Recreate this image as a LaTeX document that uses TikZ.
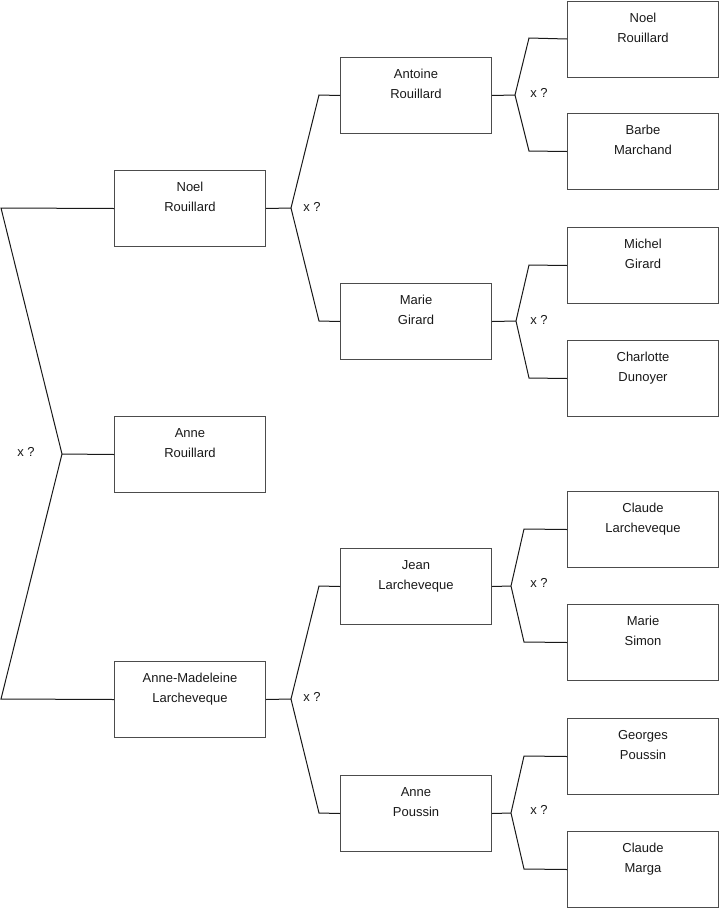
\documentclass[tikz,border=0pt]{standalone}
\usepackage{fontspec}
\setmainfont{Liberation Sans}
\begin{document}
\begin{tikzpicture}[x=1pt,y=-1pt,
 pbox/.style={draw=black!70, line width=1pt, minimum width=151pt, minimum height=76pt, inner sep=0pt, anchor=north west},
 nm/.style={anchor=north, yshift=-12pt, inner sep=0pt, align=center, font=\fontsize{13}{20}\selectfont, text=black!90},
 conn/.style={draw=black!90, line width=1pt},
 xq/.style={font=\fontsize{13}{16}\selectfont, inner sep=0pt, text=black!90}]
\useasboundingbox (0,0) rectangle (719,908);
% level 1
\node[pbox, label={[nm]north:Noel\\Rouillard}] (noel) at (114,170) {};
\node[pbox, label={[nm]north:Anne\\Rouillard}] (anne) at (114,416) {};
\node[pbox, label={[nm]north:Anne-Madeleine\\Larcheveque}] (am) at (114,661) {};
% level 2
\node[pbox, label={[nm]north:Antoine\\Rouillard}] (antoine) at (340,57) {};
\node[pbox, label={[nm]north:Marie\\Girard}] (marieg) at (340,283) {};
\node[pbox, label={[nm]north:Jean\\Larcheveque}] (jean) at (340,548) {};
\node[pbox, label={[nm]north:Anne\\Poussin}] (annep) at (340,775) {};
% level 3
\node[pbox, label={[nm]north:Noel\\Rouillard}] (noel2) at (567,0.5) {};
\node[pbox, label={[nm]north:Barbe\\Marchand}] (barbe) at (567,113) {};
\node[pbox, label={[nm]north:Michel\\Girard}] (michel) at (567,227) {};
\node[pbox, label={[nm]north:Charlotte\\Dunoyer}] (charlotte) at (567,340) {};
\node[pbox, label={[nm]north:Claude\\Larcheveque}] (claude) at (567,491) {};
\node[pbox, label={[nm]north:Marie\\Simon}] (maries) at (567,604) {};
\node[pbox, label={[nm]north:Georges\\Poussin}] (georges) at (567,718) {};
\node[pbox, label={[nm]north:Claude\\Marga}] (marga) at (567,831) {};
% junction points
\coordinate (L1) at (1,208);
\coordinate (L2) at (1,699);
\coordinate (J0) at (62,454);
\coordinate (J1) at (291,208);
\coordinate (a1) at (319,95);
\coordinate (a2) at (319,321);
\coordinate (J2) at (291,699);
\coordinate (b1) at (319,586);
\coordinate (b2) at (319,813);
\coordinate (K1) at (515,95);
\coordinate (c1) at (529,38);
\coordinate (c2) at (529,151);
\coordinate (K2) at (516,321);
\coordinate (d1) at (529,265);
\coordinate (d2) at (529,378);
\coordinate (K3) at (511,586);
\coordinate (e1) at (524,529);
\coordinate (e2) at (524,642);
\coordinate (K4) at (511,813);
\coordinate (f1) at (524,756);
\coordinate (f2) at (524,869);
% connectors
\draw[conn] (noel.west) -- (L1) -- (J0) -- (L2) -- (am.west);
\draw[conn] (J0) -- (anne.west);
\draw[conn] (noel.east) -- (J1);
\draw[conn] (antoine.west) -- (a1) -- (J1) -- (a2) -- (marieg.west);
\draw[conn] (am.east) -- (J2);
\draw[conn] (jean.west) -- (b1) -- (J2) -- (b2) -- (annep.west);
\draw[conn] (antoine.east) -- (K1);
\draw[conn] (noel2.west) -- (c1) -- (K1) -- (c2) -- (barbe.west);
\draw[conn] (marieg.east) -- (K2);
\draw[conn] (michel.west) -- (d1) -- (K2) -- (d2) -- (charlotte.west);
\draw[conn] (jean.east) -- (K3);
\draw[conn] (claude.west) -- (e1) -- (K3) -- (e2) -- (maries.west);
\draw[conn] (annep.east) -- (K4);
\draw[conn] (georges.west) -- (f1) -- (K4) -- (f2) -- (marga.west);
% labels
\node[xq] (q0) at (26,452) {x ?};
\node[xq] (q1) at (312,207) {x ?};
\node[xq] (q2) at (312,697) {x ?};
\node[xq] (q3) at (539,93) {x ?};
\node[xq] (q4) at (539,320) {x ?};
\node[xq] (q5) at (539,583) {x ?};
\node[xq] (q6) at (539,810) {x ?};
\end{tikzpicture}
\end{document}
